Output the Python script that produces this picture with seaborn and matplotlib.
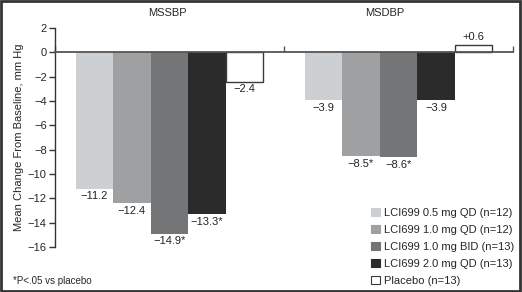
import matplotlib
matplotlib.use("Agg")
import matplotlib.pyplot as plt
import matplotlib.patches as mpatches
import seaborn as sns
import pandas as pd

measures = ["MSSBP", "MSDBP"]
groups = ["LCI699 0.5 mg QD (n=12)", "LCI699 1.0 mg QD (n=12)",
          "LCI699 1.0 mg BID (n=13)", "LCI699 2.0 mg QD (n=13)",
          "Placebo (n=13)"]
sbp = [-11.2, -12.4, -14.9, -13.3, -2.4]
dbp = [-3.9, -8.5, -8.6, -3.9, 0.6]
sbp_labels = ["\u221211.2", "\u221212.4", "\u221214.9*", "\u221213.3*", "\u22122.4"]
dbp_labels = ["\u22123.9", "\u22128.5*", "\u22128.6*", "\u22123.9", "+0.6"]
colors = ["#cdd0d2", "#9ea0a2", "#747577", "#2b2b2b", "#ffffff"]

rows = []
for g, a, b in zip(groups, sbp, dbp):
    rows.append({"measure": measures[0], "group": g, "value": a})
    rows.append({"measure": measures[1], "group": g, "value": b})
df = pd.DataFrame(rows)

sns.set_style("ticks")
plt.rcParams['font.family'] = ['Liberation Sans', 'DejaVu Sans']
fs = 8

fig = plt.figure(figsize=(5.22, 2.92), dpi=100)
ax = fig.add_axes([55/522, 1-247/292, (513-55)/522, (247-28)/292])

sns.barplot(data=df, x="measure", y="value", hue="group", order=measures,
            hue_order=groups, palette=dict(zip(groups, colors)),
            saturation=1, width=0.82, linewidth=0, legend=False, ax=ax)

edge = "#3a3a3a"
for p in ax.containers[-1]:
    p.set_edgecolor(edge)
    p.set_linewidth(1.0)

for i, cont in enumerate(ax.containers):
    ax.bar_label(cont, labels=[sbp_labels[i], dbp_labels[i]], padding=2,
                 fontsize=fs, color="#222222")

ax.set_xlim(-0.5, 1.5)
ax.set_ylim(-16, 2)
ax.set_yticks(range(-16, 3, 2))
ax.set_xticks([-0.5, 0.5, 1.5])
ax.set_xticklabels([])
ax.set_xlabel("")
ax.set_ylabel("Mean Change From Baseline, mm Hg", fontsize=fs, labelpad=3)

for s in ["top", "right"]:
    ax.spines[s].set_visible(False)
ax.spines["bottom"].set_position(("data", 0))
ax.spines["bottom"].set_color("#555555")
ax.spines["bottom"].set_linewidth(1.3)
ax.spines["left"].set_color("#333333")
ax.spines["left"].set_linewidth(1.0)
ax.tick_params(axis="x", direction="in", length=4, width=1, color="#555555")
ax.tick_params(axis="y", direction="out", length=4, width=1, color="#333333",
               labelsize=fs, pad=2)

fig.text(167/522, 1-13/292, "MSSBP", ha="center", va="center", fontsize=fs)
fig.text(385/522, 1-13/292, "MSDBP", ha="center", va="center", fontsize=fs)

fig.text(13/522, 1-281/292, "*P<.05 vs placebo", ha="left", va="center",
         fontsize=7)

handles = [mpatches.Patch(facecolor=c, edgecolor=(edge if c == "#ffffff" else c),
                          linewidth=0.8) for c in colors]
fig.legend(handles, groups, loc="lower right", bbox_to_anchor=(1.0, -0.005),
           frameon=False, fontsize=fs, handlelength=0.75, handleheight=0.75,
           handletextpad=0.4, labelspacing=0.62, borderaxespad=0.3)

fig.patches.append(mpatches.Rectangle((0.002, 0.003), 0.994, 0.992,
                                      transform=fig.transFigure, fill=False,
                                      edgecolor="#333333", linewidth=2))

fig.savefig("out.png", dpi=100)
